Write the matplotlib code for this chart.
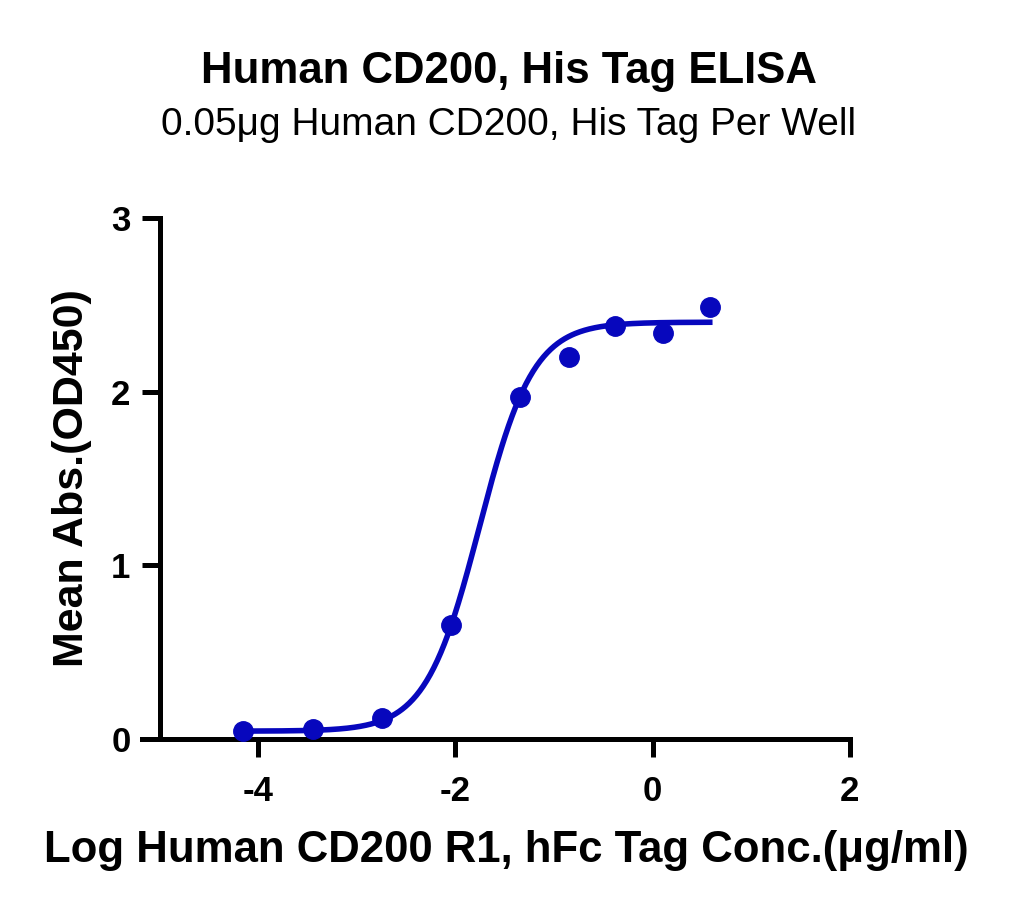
import numpy as np
import matplotlib
matplotlib.use("Agg")
import matplotlib.pyplot as plt

plt.rcParams['font.family'] = ['Liberation Sans', 'DejaVu Sans']
plt.rcParams['axes.unicode_minus'] = False

# Data (log10 concentration, mean absorbance)
log_conc = [-4.153, -3.44, -2.745, -2.04, -1.347, -0.847, -0.378, 0.102, 0.58]
mean_abs = [0.046, 0.058, 0.12, 0.656, 1.97, 2.20, 2.38, 2.34, 2.49]

# 4PL fit parameters
bottom, top, log_ec50, hill = 0.045, 2.40, -1.756, 1.59

x_ticks = [-4, -2, 0, 2]
y_ticks = [0, 1, 2, 3]
color = '#0707bd'

fig = plt.figure(figsize=(10.14, 9.19), dpi=100)
ax = fig.add_axes([0.140, 0.1959, 0.698, 0.5669])

xs = np.linspace(min(log_conc), max(log_conc), 400)
ys = bottom + (top - bottom) / (1 + 10 ** ((log_ec50 - xs) * hill))
ax.plot(xs, ys, color=color, lw=4.0, clip_on=False, zorder=3)
ax.plot(log_conc, mean_abs, 'o', color=color, ms=14, clip_on=False, zorder=4)

ax.set_xlim(-5.18, 2)
ax.set_ylim(0, 3)
ax.spines['left'].set_position(('data', -5))
ax.spines['top'].set_visible(False)
ax.spines['right'].set_visible(False)
for s in ['left', 'bottom']:
    ax.spines[s].set_linewidth(3.6)
ax.set_xticks(x_ticks)
ax.set_yticks(y_ticks)
ax.tick_params(width=3.6, length=13, labelsize=25)
ax.tick_params(axis='x', pad=13)
ax.tick_params(axis='y', pad=8)
for lab in ax.get_xticklabels() + ax.get_yticklabels():
    lab.set_fontweight('bold')

ax.set_xlabel('Log Human CD200 R1, hFc Tag Conc.(μg/ml)', fontsize=31.5, fontweight='bold', labelpad=16)
ax.xaxis.label.set_x(0.515)
ax.set_ylabel('Mean Abs.(OD450)', fontsize=31, fontweight='bold', labelpad=14)

fig.text(0.502, 0.922, 'Human CD200, His Tag ELISA', ha='center', va='center', fontsize=31.5, fontweight='bold')
fig.text(0.502, 0.864, '0.05μg Human CD200, His Tag Per Well', ha='center', va='center', fontsize=28)

fig.savefig('out.png', dpi=100)
